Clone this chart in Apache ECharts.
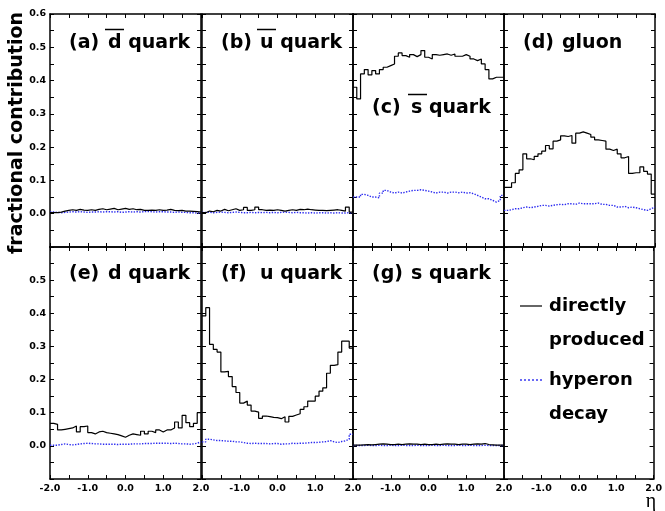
<!DOCTYPE html>
<html>
<head>
<meta charset="utf-8">
<script src="https://cdn.jsdelivr.net/npm/echarts@6/dist/echarts.min.js"></script>
<style>html,body{margin:0;padding:0;background:#fff}#chart{width:665px;height:511px}</style>
</head>
<body>
<div id="chart"></div>
<script>
// eta bins: 40 bins of 0.1 from -2 to 2
var etaMin = -2.0, etaMax = 2.0, nBins = 40;
var binEdges = [];
for (var i = 0; i <= nBins; i++) binEdges.push(Math.round((etaMin + i * 0.1) * 10) / 10);

// (a) dbar
var dbarDirect  = [0.003,0.003,0.005,0.008,0.010,0.012,0.010,0.013,0.011,0.010,0.012,0.010,0.013,0.015,0.012,0.014,0.016,0.012,0.014,0.016,0.013,0.015,0.012,0.013,0.010,0.010,0.011,0.010,0.012,0.010,0.011,0.013,0.010,0.009,0.010,0.008,0.008,0.007,0.006,0.005];
var dbarHyperon = [0.005,0.004,0.003,0.004,0.005,0.006,0.005,0.006,0.005,0.004,0.005,0.005,0.006,0.005,0.006,0.006,0.005,0.006,0.004,0.005,0.006,0.005,0.006,0.005,0.006,0.007,0.006,0.005,0.006,0.006,0.005,0.005,0.004,0.005,0.004,0.004,0.003,0.003,0.002,0.002];
// (b) ubar
var ubarDirect  = [0.003,0.008,0.006,0.010,0.008,0.013,0.009,0.012,0.015,0.010,0.012,0.019,0.010,0.012,0.020,0.012,0.010,0.011,0.010,0.012,0.010,0.008,0.010,0.012,0.010,0.013,0.012,0.014,0.012,0.011,0.010,0.010,0.009,0.010,0.011,0.012,0.010,0.008,0.020,0.005];
var ubarHyperon = [0.004,0.005,0.003,0.004,0.005,0.004,0.003,0.004,0.005,0.004,0.003,0.003,0.004,0.003,0.004,0.003,0.004,0.003,0.004,0.003,0.004,0.005,0.004,0.003,0.004,0.003,0.003,0.002,0.003,0.002,0.003,0.003,0.002,0.003,0.002,0.003,0.002,0.002,0.003,0.003];
// (c) sbar
var sbarDirect  = [0.380,0.345,0.420,0.433,0.417,0.430,0.420,0.433,0.440,0.445,0.450,0.473,0.483,0.475,0.470,0.478,0.472,0.478,0.490,0.470,0.465,0.478,0.476,0.478,0.480,0.476,0.480,0.473,0.473,0.478,0.473,0.465,0.460,0.465,0.450,0.433,0.405,0.410,0.410,0.410];
var sbarHyperon = [0.050,0.050,0.058,0.055,0.050,0.050,0.048,0.062,0.070,0.065,0.062,0.065,0.062,0.065,0.068,0.070,0.070,0.072,0.070,0.068,0.065,0.062,0.065,0.065,0.062,0.065,0.065,0.063,0.065,0.062,0.063,0.060,0.055,0.050,0.045,0.045,0.040,0.035,0.040,0.055];
// (d) gluon
var gluonDirect  = [0.079,0.079,0.093,0.121,0.132,0.180,0.165,0.162,0.172,0.180,0.188,0.205,0.195,0.218,0.222,0.234,0.232,0.235,0.212,0.242,0.246,0.242,0.238,0.230,0.222,0.220,0.218,0.194,0.190,0.194,0.180,0.168,0.172,0.121,0.123,0.123,0.141,0.127,0.119,0.059];
var gluonHyperon = [0.010,0.012,0.015,0.015,0.018,0.020,0.018,0.020,0.022,0.025,0.025,0.023,0.025,0.027,0.028,0.027,0.030,0.030,0.028,0.032,0.030,0.030,0.030,0.030,0.032,0.028,0.028,0.025,0.025,0.020,0.020,0.022,0.018,0.020,0.018,0.015,0.012,0.010,0.015,0.020];
// (e) d
var dDirect  = [0.068,0.065,0.048,0.050,0.052,0.054,0.060,0.042,0.058,0.060,0.040,0.036,0.042,0.044,0.040,0.038,0.036,0.034,0.030,0.026,0.032,0.036,0.034,0.032,0.044,0.036,0.044,0.040,0.048,0.042,0.048,0.048,0.054,0.072,0.054,0.092,0.070,0.058,0.068,0.100];
var dHyperon = [0.002,0.002,0.004,0.006,0.004,0.003,0.004,0.006,0.007,0.008,0.007,0.006,0.006,0.005,0.005,0.005,0.005,0.004,0.005,0.005,0.005,0.006,0.006,0.006,0.007,0.007,0.007,0.008,0.008,0.008,0.008,0.007,0.008,0.007,0.006,0.006,0.005,0.006,0.008,0.012];
// (f) u
var uDirect  = [0.392,0.417,0.306,0.291,0.283,0.223,0.225,0.209,0.179,0.161,0.129,0.135,0.123,0.105,0.102,0.083,0.090,0.088,0.086,0.085,0.082,0.088,0.072,0.089,0.093,0.097,0.110,0.118,0.135,0.135,0.150,0.165,0.175,0.219,0.243,0.245,0.283,0.316,0.316,0.295];
var uHyperon = [0.012,0.020,0.018,0.016,0.016,0.015,0.014,0.014,0.012,0.012,0.010,0.008,0.007,0.008,0.007,0.007,0.007,0.006,0.007,0.007,0.005,0.006,0.006,0.008,0.007,0.008,0.008,0.009,0.010,0.010,0.011,0.012,0.013,0.016,0.012,0.010,0.013,0.015,0.020,0.035];
// (g) s
var sDirect  = [0.002,0.002,0.003,0.004,0.003,0.004,0.005,0.006,0.005,0.004,0.004,0.005,0.004,0.005,0.006,0.005,0.005,0.004,0.005,0.004,0.004,0.005,0.004,0.005,0.006,0.005,0.005,0.004,0.005,0.005,0.004,0.005,0.006,0.005,0.007,0.004,0.003,0.002,0.002,0.002];
var sHyperon = [0.001,0.001,0.001,0.002,0.001,0.001,0.002,0.001,0.001,0.002,0.001,0.001,0.002,0.001,0.001,0.001,0.002,0.001,0.001,0.001,0.002,0.001,0.001,0.002,0.001,0.001,0.001,0.002,0.001,0.001,0.002,0.001,0.001,0.001,0.002,0.001,0.001,0.001,0.001,0.001];

var panels = [
  {prefix: '(a)', name: 'd quark', bar: true,  dy: 29, direct: dbarDirect,  hyperon: dbarHyperon},
  {prefix: '(b)', name: 'u quark', bar: true,  dy: 29, direct: ubarDirect,  hyperon: ubarHyperon},
  {prefix: '(c)', name: 's quark', bar: true,  dy: 94, direct: sbarDirect,  hyperon: sbarHyperon},
  {prefix: '(d)', name: 'gluon',   bar: false, dy: 29, direct: gluonDirect, hyperon: gluonHyperon},
  {prefix: '(e)', name: 'd quark', bar: false, dy: 27, direct: dDirect,     hyperon: dHyperon},
  {prefix: '(f)', name: 'u quark', bar: false, dy: 27, direct: uDirect,     hyperon: uHyperon},
  {prefix: '(g)', name: 's quark', bar: false, dy: 27, direct: sDirect,     hyperon: sHyperon},
  null
];

var colLeft = [50, 202, 353, 504];
var panelW = 151;
var rowTop = [14, 247];
var rowH = [233, 232];
var labelFont = 'DejaVu Sans';

function steps(arr) {
  var out = [];
  for (var i = 0; i < binEdges.length; i++) out.push([binEdges[i], arr[Math.min(i, arr.length - 1)]]);
  return out;
}
function isMult(v, step) { var r = Math.round(v / step); return Math.abs(v - r * step) < 1e-6; }
function mkLine() { return {show: true, onZero: false, lineStyle: {color: '#000', width: 1.5}}; }
function mkTick() { return {show: true, inside: true, length: 4, lineStyle: {color: '#000', width: 1}}; }
function xFmt(col) {
  return function(v) {
    if (!isMult(v, 1)) return '';
    if (col > 0 && v < -1.5) return '';   // shared edge: only "2.0" of the left panel shows
    return v.toFixed(1);
  };
}
function yFmt(row) {
  return function(v) {
    if (!isMult(v, 0.1) || v < -0.01) return '';
    if (row === 1 && v > 0.55) return '';
    return v.toFixed(1);
  };
}

var grids = [], xAxes = [], yAxes = [], series = [], graphics = [];
for (var g = 0; g < 8; g++) {
  var row = Math.floor(g / 4), col = g % 4;
  var pLeft = colLeft[col], pTop = rowTop[row];
  grids.push({left: pLeft, top: pTop, width: panelW, height: rowH[row]});
  xAxes.push({gridIndex: g, type: 'value', position: 'bottom', min: etaMin, max: etaMax, interval: 0.5,
    axisLine: mkLine(), axisTick: mkTick(), splitLine: {show: false},
    axisLabel: {show: row === 1, margin: 5, color: '#000', fontFamily: labelFont, fontWeight: 'bold', fontSize: 9.5, formatter: xFmt(col)}});
  xAxes.push({gridIndex: g, type: 'value', position: 'top', min: etaMin, max: etaMax, interval: 0.5,
    axisLine: mkLine(), axisTick: mkTick(), splitLine: {show: false}, axisLabel: {show: false}});
  yAxes.push({gridIndex: g, type: 'value', position: 'left', min: -0.1, max: 0.6, interval: 0.05,
    axisLine: mkLine(), axisTick: mkTick(), splitLine: {show: false},
    axisLabel: {show: col === 0, margin: 4, color: '#000', fontFamily: labelFont, fontWeight: 'bold', fontSize: 9.5, formatter: yFmt(row)}});
  yAxes.push({gridIndex: g, type: 'value', position: 'right', min: -0.1, max: 0.6, interval: 0.05,
    axisLine: mkLine(), axisTick: mkTick(), splitLine: {show: false}, axisLabel: {show: false}});

  var p = panels[g];
  if (!p) continue;
  series.push({name: 'directly produced', type: 'line', step: 'end', symbol: 'none',
    xAxisIndex: 2 * g, yAxisIndex: 2 * g, lineStyle: {color: '#000', width: 1.2, type: 'solid'},
    data: steps(p.direct), z: 3});
  series.push({name: 'hyperon decay', type: 'line', step: 'end', symbol: 'none',
    xAxisIndex: 2 * g, yAxisIndex: 2 * g, lineStyle: {color: '#2b2bf0', width: 1.4, type: 'dotted'},
    data: steps(p.hyperon), z: 2});

  // panel caption, with an overline for antiquarks
  var cy = pTop + p.dy;
  graphics.push({type: 'text', x: pLeft + 19, y: cy, style: {text: p.prefix, font: 'bold 19px "DejaVu Sans"', fill: '#000', verticalAlign: 'middle'}});
  graphics.push({type: 'text', x: pLeft + 58, y: cy, style: {text: p.name, font: 'bold 19px "DejaVu Sans"', fill: '#000', verticalAlign: 'middle'}});
  if (p.bar) {
    graphics.push({type: 'line', shape: {x1: pLeft + 55, y1: cy - 13.5, x2: pLeft + 74, y2: cy - 13.5}, style: {stroke: '#000', lineWidth: 1.5}});
  }
}
graphics.push({type: 'text', x: 17, y: 133, rotation: Math.PI / 2,
  style: {text: 'fractional contribution', font: 'bold 19px "DejaVu Sans"', fill: '#000', align: 'center', verticalAlign: 'middle'}});
graphics.push({type: 'text', x: 651, y: 502,
  style: {text: 'η', font: '20px "Liberation Serif"', fill: '#000', align: 'center', verticalAlign: 'middle'}});

// legend in the empty bottom-right panel
var legendItems = [
  {lines: ['directly', 'produced'], color: '#000', dash: null, width: 1.2, y: 306},
  {lines: ['hyperon', 'decay'], color: '#2b2bf0', dash: [2, 2], width: 1.4, y: 380}
];
legendItems.forEach(function(it) {
  var st = {stroke: it.color, lineWidth: it.width};
  if (it.dash) st.lineDash = it.dash;
  graphics.push({type: 'line', shape: {x1: 520, y1: it.y, x2: 542, y2: it.y}, style: st});
  it.lines.forEach(function(t, k) {
    graphics.push({type: 'text', x: 549, y: it.y + k * 34, style: {text: t, font: 'bold 18px "DejaVu Sans"', fill: '#000', verticalAlign: 'middle'}});
  });
});

var chart = echarts.init(document.getElementById('chart'));
chart.setOption({
  animation: false,
  backgroundColor: '#fff',
  grid: grids,
  xAxis: xAxes,
  yAxis: yAxes,
  series: series,
  graphic: graphics
});
</script>
</body>
</html>
